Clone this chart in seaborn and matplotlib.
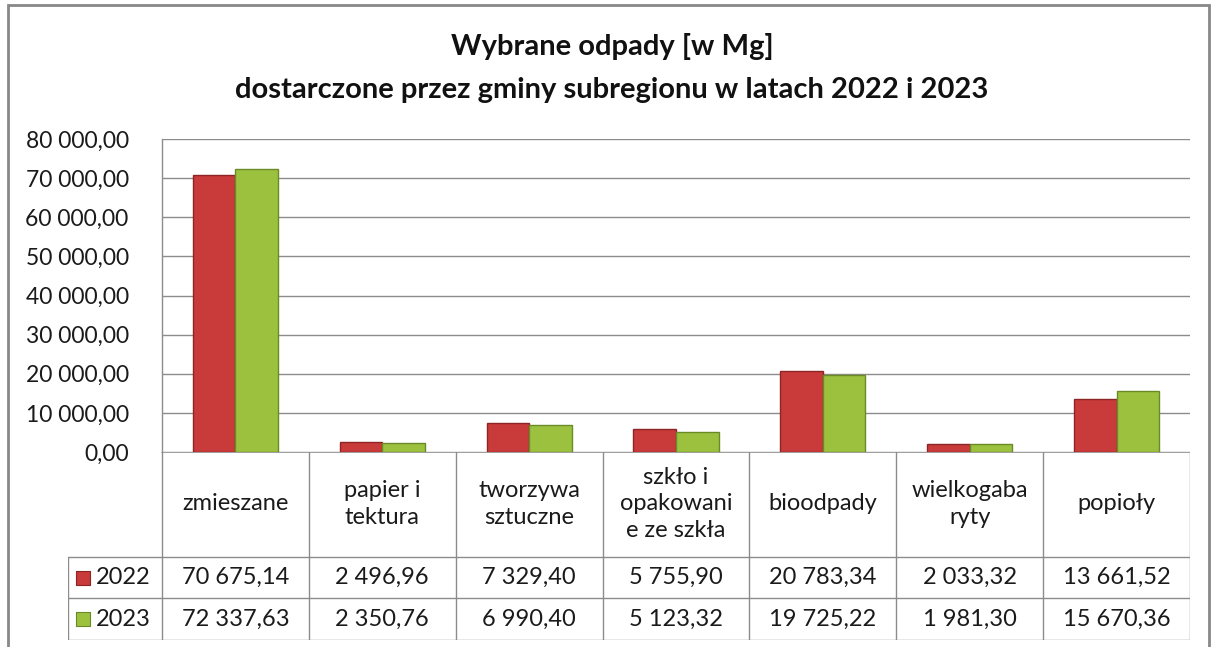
import numpy as np
import pandas as pd
import matplotlib
matplotlib.use("Agg")
import matplotlib.pyplot as plt
import seaborn as sns
from matplotlib.ticker import FuncFormatter
from matplotlib.patches import Rectangle

# --- dane ---
kategorie = ["zmieszane", "papier i\ntektura", "tworzywa\nsztuczne",
             "szkło i\nopakowani\ne ze szkła", "bioodpady", "wielkogaba\nryty", "popioły"]
lata = ["2022", "2023"]
wartosci_2022 = [70675.14, 2496.96, 7329.40, 5755.90, 20783.34, 2033.32, 13661.52]
wartosci_2023 = [72337.63, 2350.76, 6990.40, 5123.32, 19725.22, 1981.30, 15670.36]

kolory = {"2022": "#C93A3A", "2023": "#9CC13F"}
krawedzie = {"2022": "#8E2525", "2023": "#6A8A25"}


def pl_format(v, decimals=2):
    s = f"{v:,.{decimals}f}"
    return s.replace(",", " ").replace(".", ",")


df = pd.DataFrame({
    "kat": kategorie * 2,
    "rok": ["2022"] * 7 + ["2023"] * 7,
    "wartosc": wartosci_2022 + wartosci_2023,
})

sns.set_theme(style="white")
plt.rcParams["font.family"] = ["Lato", "DejaVu Sans"]

W, H = 1213, 647
fig = plt.figure(figsize=(W / 100, H / 100), dpi=100)

def fx(px):
    return px / W

def fy(py):
    return 1 - py / H

# --- wykres ---
ax = fig.add_axes([fx(162), fy(452), fx(1190) - fx(162), fy(139) - fy(452)])
sns.barplot(data=df, x="kat", y="wartosc", hue="rok", palette=kolory,
            width=0.58, gap=0, ax=ax, legend=False, saturation=1)
for cont, rok in zip(ax.containers, lata):
    for bar in cont:
        bar.set_edgecolor(krawedzie[rok])
        bar.set_linewidth(1.0)
        bar.set_zorder(3)

ax.set_xlim(-0.5, 6.5)
ax.set_ylim(0, 80000)
ax.set_yticks(np.arange(0, 80001, 10000))
ax.yaxis.set_major_formatter(FuncFormatter(lambda v, p: pl_format(v)))
ax.tick_params(axis="y", labelsize=16.5, pad=24, length=0, colors="#1A1A1A")
ax.set_xticks([])
ax.set_xlabel("")
ax.set_ylabel("")
ax.grid(axis="y", color="#8C8C8C", linewidth=1.0, zorder=0)
ax.set_axisbelow(True)
for s in ["top", "right", "bottom"]:
    ax.spines[s].set_visible(False)
ax.spines["left"].set_color("#8C8C8C")
ax.spines["left"].set_linewidth(1.0)

# --- tabela danych ---
tx = fig.add_axes([fx(68), fy(640), fx(1190) - fx(68), fy(452) - fy(640)])
extra = (162 - 68) / ((1190 - 162) / 7)
tx.set_xlim(-0.5 - extra, 6.5)
tx.set_ylim(188, 0)
tx.axis("off")

lc = "#8C8C8C"
rows = [0, 105, 146, 188]
tx.plot([-0.5, 6.5], [0, 0], color=lc, lw=1.2)
for r in rows[1:]:
    tx.plot([-0.5 - extra, 6.5], [r, r], color=lc, lw=1.0)
for i in range(8):
    tx.plot([i - 0.5, i - 0.5], [0, 188], color=lc, lw=1.0)
tx.plot([-0.5 - extra, -0.5 - extra], [rows[1], 188], color=lc, lw=1.0)

fs = 17
for i, k in enumerate(kategorie):
    tx.text(i, 52, k, ha="center", va="center", fontsize=fs, color="#1A1A1A", linespacing=1.3)
for j, (rok, vals) in enumerate(zip(lata, [wartosci_2022, wartosci_2023])):
    yc = (rows[j + 1] + rows[j + 2]) / 2
    for i, v in enumerate(vals):
        tx.text(i, yc, pl_format(v), ha="center", va="center", fontsize=fs, color="#1A1A1A")
    # znacznik legendy
    tx.scatter([-0.5 - extra + 0.1], [yc], marker="s", s=110, color=kolory[rok],
               edgecolor=krawedzie[rok], linewidth=0.8, zorder=3)
    tx.text(-0.5 - extra + 0.19, yc, rok, ha="left", va="center", fontsize=fs, color="#1A1A1A")

# --- tytuł ---
fig.text(fx(612), fy(47), "Wybrane odpady [w Mg]", ha="center", va="center",
         fontsize=21, fontweight="bold", color="#111111")
fig.text(fx(612), fy(90), "dostarczone przez gminy subregionu w latach 2022 i 2023",
         ha="center", va="center", fontsize=21, fontweight="bold", color="#111111")

# ramka wykresu
fig.add_artist(Rectangle((fx(8), fy(660)), fx(1209) - fx(8), fy(5) - fy(660),
                         transform=fig.transFigure, fill=False, edgecolor="#888888", lw=2))

fig.savefig("out.png", dpi=100)
